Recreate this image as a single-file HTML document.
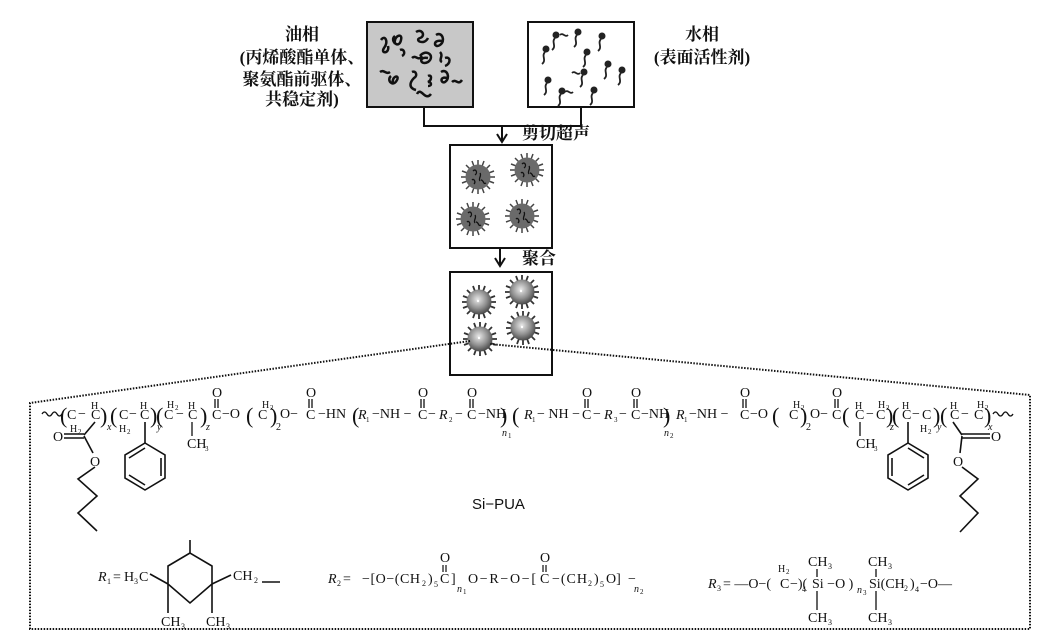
<!DOCTYPE html>
<html><head><meta charset="utf-8"><style>
html,body{margin:0;padding:0;background:#fff;}
svg{display:block;}
.cn{font-family:"Liberation Serif","Noto Serif CJK SC",serif;font-size:17px;fill:#111;font-weight:bold;}
.ch{font-family:"Liberation Serif",serif;font-size:14px;fill:#111;}
.sm{font-family:"Liberation Serif",serif;font-size:10px;fill:#111;}
.it{font-style:italic;}
.br{font-family:"Liberation Serif",serif;font-size:22px;fill:#111;}
</style></head><body>
<svg width="1055" height="634" viewBox="0 0 1055 634" xmlns="http://www.w3.org/2000/svg">
<defs>
<radialGradient id="sph" cx="45%" cy="40%" r="60%"><stop offset="0" stop-color="#e8e8e8"/><stop offset="0.6" stop-color="#909090"/><stop offset="1" stop-color="#4a4a4a"/></radialGradient>
<g id="sp"><circle cx="0" cy="0" r="3.5" fill="#222"/><path d="M-1,3 c-4,4 2,8 -3,12" fill="none" stroke="#222" stroke-width="1.8"/></g>
<g id="p1"><g stroke="#444" stroke-width="1.5">
<line x1="-17" y1="0" x2="17" y2="0"/><line x1="0" y1="-17" x2="0" y2="17"/><line x1="-12" y1="-12" x2="12" y2="12"/><line x1="-12" y1="12" x2="12" y2="-12"/>
<line x1="-16" y1="-6" x2="16" y2="6"/><line x1="-16" y1="6" x2="16" y2="-6"/><line x1="-6" y1="-16" x2="6" y2="16"/><line x1="6" y1="-16" x2="-6" y2="16"/></g>
<circle r="12.5" fill="#6a6a6a"/>
<path d="M-5,-6 c3,-3 5,2 2,4 M2,-4 c2,3 -2,5 0,8 M-6,3 c2,-2 4,2 2,4 M3,3 c3,0 2,5 5,3" fill="none" stroke="#111" stroke-width="1.3"/></g>
<g id="p2"><g stroke="#333" stroke-width="1.8">
<line x1="-17" y1="0" x2="17" y2="0"/><line x1="0" y1="-17" x2="0" y2="17"/><line x1="-12" y1="-12" x2="12" y2="12"/><line x1="-12" y1="12" x2="12" y2="-12"/>
<line x1="-16" y1="-6" x2="16" y2="6"/><line x1="-16" y1="6" x2="16" y2="-6"/><line x1="-6" y1="-16" x2="6" y2="16"/><line x1="6" y1="-16" x2="-6" y2="16"/></g>
<circle r="12.5" fill="url(#sph)"/><circle cx="-1" cy="-1" r="1.2" fill="#fff"/></g>
</defs>

<text class="cn" x="302" y="40" text-anchor="middle">油相</text>
<text class="cn" x="302" y="63" text-anchor="middle">(丙烯酸酯单体、</text>
<text class="cn" x="302" y="85" text-anchor="middle">聚氨酯前驱体、</text>
<text class="cn" x="302" y="105" text-anchor="middle">共稳定剂)</text>
<text class="cn" x="702" y="40" text-anchor="middle">水相</text>
<text class="cn" x="702" y="63" text-anchor="middle">(表面活性剂)</text>

<rect x="367" y="22" width="106" height="85" fill="#c8c8c8" stroke="#111" stroke-width="2"/>
<g fill="none" stroke="#111" stroke-width="2.5">
<path d="M381,40 c4,-6 8,2 3,8 c-4,6 6,6 4,-2"/><path d="M395,36 c-6,4 4,14 6,4 c2,-8 -8,-4 -6,4"/>
<path d="M416,32 c6,-4 10,4 4,6 c-6,2 4,8 8,0"/><path d="M436,35 c6,-4 10,6 4,10 c-6,4 -8,-6 2,-4"/>
<path d="M400,50 c4,-2 6,4 2,6"/><path d="M412,58 c4,-4 6,4 10,-2"/><path d="M420,56 c6,-8 16,0 8,6 c-8,4 -10,-6 0,-4"/>
<path d="M440,52 c4,4 -2,8 2,10"/><path d="M445,58 c6,-2 6,6 0,8"/>
<path d="M380,72 c4,-3 6,3 10,0"/><path d="M391,76 c-5,4 2,12 6,4 c3,-6 -6,-4 -4,4"/>
<path d="M412,72 c4,-2 6,4 2,6 c-4,4 -6,10 2,12"/><path d="M428,76 c4,-2 4,4 0,6 c4,0 4,4 0,4"/>
<path d="M441,72 c6,-4 10,6 4,10 c-4,2 -6,-6 2,-4"/><path d="M452,82 c4,-4 6,4 10,-2"/>
<path d="M417,94 c4,-8 8,8 14,0"/>
</g>
<rect x="528" y="22" width="106" height="85" fill="#fff" stroke="#111" stroke-width="2"/>
<g>
<use href="#sp" x="556" y="35"/><use href="#sp" x="578" y="32"/><use href="#sp" x="602" y="36"/>
<use href="#sp" x="546" y="49"/><use href="#sp" x="587" y="52"/><use href="#sp" x="608" y="64"/>
<use href="#sp" x="584" y="72"/><use href="#sp" x="622" y="70"/><use href="#sp" x="548" y="80"/>
<use href="#sp" x="562" y="91"/><use href="#sp" x="594" y="90"/>
<path d="M560,35 c3,-3 5,3 8,0 M572,73 c3,-3 5,3 8,0 M565,92 c3,-3 5,3 8,0" fill="none" stroke="#222" stroke-width="1.8"/>
</g>
<polyline points="424,107 424,126 581,126 581,107" fill="none" stroke="#111" stroke-width="2"/>
<line x1="502" y1="126" x2="502" y2="140" stroke="#111" stroke-width="2"/>
<path d="M497,134 L502,142 L507,134" fill="none" stroke="#111" stroke-width="2"/>
<text class="cn" x="522" y="139">剪切超声</text>

<rect x="450" y="145" width="102" height="103" fill="#fff" stroke="#111" stroke-width="2"/>
<use href="#p1" x="478" y="177"/><use href="#p1" x="527" y="170"/><use href="#p1" x="473" y="219"/><use href="#p1" x="522" y="216"/>
<line x1="500" y1="248" x2="500" y2="264" stroke="#111" stroke-width="2"/>
<path d="M495,258 L500,266 L505,258" fill="none" stroke="#111" stroke-width="2"/>
<text class="cn" x="522" y="264">聚合</text>
<rect x="450" y="272" width="102" height="103" fill="#fff" stroke="#111" stroke-width="2"/>
<use href="#p2" x="479" y="302"/><use href="#p2" x="522" y="292"/><use href="#p2" x="480" y="339"/><use href="#p2" x="523" y="328"/>

<g fill="none" stroke="#111" stroke-width="2" stroke-dasharray="1.5,1.5">
<polyline points="470,341 30,403 30,629 1030,629 1030,395 490,344"/>
</g>

<g>
<path d="M42,414 q2.5,-4 5,0 t5,0 t5,0 t5,0" fill="none" stroke="#111" stroke-width="1.3"/>
<path d="M993,414 q2.5,-4 5,0 t5,0 t5,0 t5,0" fill="none" stroke="#111" stroke-width="1.3"/>
<g class="br">
<text x="60" y="423">(</text><text x="100" y="423">)</text><text x="110" y="423">(</text><text x="150" y="423">)</text><text x="156" y="423">(</text><text x="200" y="423">)</text>
<text x="246" y="423">(</text><text x="270" y="423">)</text><text x="352" y="423">(</text><text x="500" y="423">)</text><text x="512" y="423">(</text><text x="663" y="423">)</text>
<text x="772" y="423">(</text><text x="800" y="423">)</text><text x="842" y="423">(</text><text x="886" y="423">)</text><text x="892" y="423">(</text><text x="933" y="423">)</text><text x="940" y="423">(</text><text x="984" y="423">)</text>
</g>
<g class="ch">
<text x="67" y="419">C</text><text x="78" y="418">−</text><text x="91" y="419">C</text>
<text x="119" y="419">C</text><text x="129" y="418">−</text><text x="140" y="419">C</text>
<text x="164" y="419">C</text><text x="176" y="418">−</text><text x="188" y="419">C</text>
<text x="212" y="419">C</text><text x="222" y="418">−O</text>
<text x="258" y="419">C</text><text x="280" y="418">O−</text><text x="306" y="419">C</text><text x="318" y="418">−HN</text>
<text x="358" y="419" class="it">R</text><text x="372" y="418">−NH −</text><text x="418" y="419">C</text><text x="428" y="418">−</text><text x="439" y="419" class="it">R</text><text x="455" y="418">−</text><text x="467" y="419">C</text><text x="478" y="418">−NH</text>
<text x="524" y="419" class="it">R</text><text x="537" y="418">− NH −</text><text x="582" y="419">C</text><text x="593" y="418">−</text><text x="604" y="419" class="it">R</text><text x="619" y="418">−</text><text x="631" y="419">C</text><text x="641" y="418">−NH</text>
<text x="676" y="419" class="it">R</text><text x="689" y="418">−NH −</text><text x="740" y="419">C</text><text x="750" y="418">−O</text>
<text x="789" y="419">C</text><text x="810" y="418">O−</text><text x="832" y="419">C</text>
<text x="855" y="419">C</text><text x="866" y="418">−</text><text x="876" y="419">C</text>
<text x="902" y="419">C</text><text x="912" y="418">−</text><text x="922" y="419">C</text>
<text x="950" y="419">C</text><text x="961" y="418">−</text><text x="974" y="419">C</text>
<text x="212" y="397">O</text><text x="306" y="397">O</text><text x="418" y="397">O</text><text x="467" y="397">O</text>
<text x="582" y="397">O</text><text x="631" y="397">O</text><text x="740" y="397">O</text><text x="832" y="397">O</text>
<text x="187" y="448">CH</text><text x="856" y="448">CH</text>
<text x="53" y="441">O</text><text x="991" y="441">O</text><text x="90" y="466">O</text><text x="953" y="466">O</text>
</g>
<g class="sm">
<text x="91" y="409">H</text><text x="140" y="409">H</text><text x="188" y="409">H</text><text x="855" y="409">H</text><text x="902" y="409">H</text><text x="950" y="409">H</text>
<text x="167" y="408">H</text><text x="175" y="410" font-size="7">2</text>
<text x="262" y="408">H</text><text x="270" y="410" font-size="7">2</text>
<text x="793" y="408">H</text><text x="801" y="410" font-size="7">2</text>
<text x="878" y="408">H</text><text x="886" y="410" font-size="7">2</text>
<text x="977" y="408">H</text><text x="985" y="410" font-size="7">2</text>
<text x="70" y="432">H</text><text x="78" y="434" font-size="7">2</text>
<text x="119" y="432">H</text><text x="127" y="434" font-size="7">2</text>
<text x="920" y="432">H</text><text x="928" y="434" font-size="7">2</text>
<text x="107" y="430" class="it">x</text><text x="157" y="430" class="it">y</text><text x="206" y="430" class="it">z</text><text x="276" y="430">2</text>
<text x="366" y="422" font-size="7">1</text><text x="449" y="422" font-size="7">2</text><text x="532" y="422" font-size="7">1</text><text x="614" y="422" font-size="7">3</text><text x="684" y="422" font-size="7">1</text>
<text x="502" y="436" class="it">n</text><text x="508" y="438" font-size="7">1</text>
<text x="664" y="436" class="it">n</text><text x="670" y="438" font-size="7">2</text>
<text x="806" y="430">2</text><text x="890" y="430" class="it">z</text><text x="937" y="430" class="it">y</text><text x="988" y="430" class="it">x</text>
<text x="205" y="451" font-size="7">3</text><text x="874" y="451" font-size="7">3</text>
</g>
<g stroke="#111" stroke-width="1.3" fill="none">
<line x1="215" y1="399" x2="215" y2="408"/><line x1="218" y1="399" x2="218" y2="408"/>
<line x1="309" y1="399" x2="309" y2="408"/><line x1="312" y1="399" x2="312" y2="408"/>
<line x1="421" y1="399" x2="421" y2="408"/><line x1="424" y1="399" x2="424" y2="408"/>
<line x1="470" y1="399" x2="470" y2="408"/><line x1="473" y1="399" x2="473" y2="408"/>
<line x1="585" y1="399" x2="585" y2="408"/><line x1="588" y1="399" x2="588" y2="408"/>
<line x1="634" y1="399" x2="634" y2="408"/><line x1="637" y1="399" x2="637" y2="408"/>
<line x1="743" y1="399" x2="743" y2="408"/><line x1="746" y1="399" x2="746" y2="408"/>
<line x1="835" y1="399" x2="835" y2="408"/><line x1="838" y1="399" x2="838" y2="408"/>
<line x1="192" y1="422" x2="192" y2="436"/><line x1="860" y1="422" x2="860" y2="436"/>
</g>
<g stroke="#111" stroke-width="1.6" fill="none">
<line x1="95" y1="422" x2="84" y2="435"/><line x1="64" y1="434" x2="84" y2="434"/><line x1="64" y1="438" x2="84" y2="438"/>
<line x1="84" y1="436" x2="93" y2="453"/>
<polyline points="95,467 78,479 97,496 78,513 97,531"/>
<line x1="145" y1="422" x2="145" y2="443"/>
<polygon points="145,443 165,455 165,478 145,490 125,478 125,455"/>
<line x1="161" y1="458" x2="161" y2="476"/><line x1="129" y1="458" x2="145" y2="448"/><line x1="129" y1="475" x2="145" y2="485"/>
<line x1="908" y1="422" x2="908" y2="443"/>
<polygon points="908,443 928,455 928,478 908,490 888,478 888,455"/>
<line x1="892" y1="458" x2="892" y2="476"/><line x1="924" y1="458" x2="908" y2="448"/><line x1="924" y1="475" x2="908" y2="485"/>
<line x1="953" y1="422" x2="962" y2="435"/><line x1="962" y1="434" x2="990" y2="434"/><line x1="962" y1="438" x2="990" y2="438"/>
<line x1="962" y1="436" x2="960" y2="453"/>
<polyline points="962,467 978,479 960,496 978,513 960,532"/>
</g>
</g>
<text x="472" y="509" font-family="Liberation Sans,sans-serif" font-size="15" fill="#111">Si−PUA</text>

<g class="ch">
<text x="98" y="581" class="it">R</text><text x="107" y="584" font-size="8">1</text><text x="113" y="581">=</text>
<text x="124" y="581">H</text><text x="134" y="584" font-size="8">3</text><text x="139" y="581">C</text>
<text x="233" y="580">CH</text><text x="254" y="583" font-size="8">2</text>
<text x="161" y="626">CH</text><text x="181" y="629" font-size="8">3</text>
<text x="206" y="626">CH</text><text x="226" y="629" font-size="8">3</text>
</g>
<g stroke="#111" stroke-width="1.6" fill="none">
<polygon points="190,553 168,566 168,584 190,603 212,584 212,566"/>
<line x1="190" y1="553" x2="190" y2="540"/>
<line x1="150" y1="574" x2="168" y2="584"/><line x1="212" y1="584" x2="231" y2="575"/>
<line x1="168" y1="584" x2="168" y2="613"/><line x1="212" y1="584" x2="212" y2="613"/>
<line x1="262" y1="582" x2="280" y2="582"/>
</g>
<g class="ch">
<text x="328" y="583" class="it">R</text><text x="337" y="586" font-size="8">2</text><text x="343" y="583">=</text>
<text x="362" y="583" textLength="58" lengthAdjust="spacing">−[O−(CH</text><text x="422" y="586" font-size="8">2</text><text x="428" y="583">)</text><text x="434" y="587" font-size="8">5</text>
<text x="440" y="583">C</text><text x="440" y="562">O</text><text x="451" y="583">]</text><text x="457" y="592" class="it" font-size="10">n</text><text x="463" y="594" font-size="7">1</text>
<text x="468" y="583" textLength="68" lengthAdjust="spacing">O−R−O−[</text><text x="540" y="583">C</text><text x="540" y="562">O</text>
<text x="552" y="583" textLength="35" lengthAdjust="spacing">−(CH</text><text x="588" y="586" font-size="8">2</text><text x="594" y="583">)</text><text x="600" y="587" font-size="8">5</text>
<text x="606" y="583">O]</text><text x="634" y="592" class="it" font-size="10">n</text><text x="640" y="594" font-size="7">2</text><text x="628" y="583">−</text>
</g>
<g stroke="#111" stroke-width="1.2"><line x1="443" y1="565" x2="443" y2="572"/><line x1="446" y1="565" x2="446" y2="572"/><line x1="543" y1="565" x2="543" y2="572"/><line x1="546" y1="565" x2="546" y2="572"/></g>
<g class="ch">
<text x="708" y="588" class="it">R</text><text x="717" y="591" font-size="8">3</text><text x="723" y="588">= —O−(</text>
<text x="780" y="588">C</text><text x="778" y="572" font-size="10">H</text><text x="786" y="574" font-size="7">2</text>
<text x="790" y="588">−)(</text><text x="802" y="592" font-size="8">4</text>
<text x="812" y="588">Si −O )</text><text x="857" y="593" class="it" font-size="10">n</text><text x="863" y="595" font-size="7">3</text>
<text x="869" y="588">Si(CH</text><text x="904" y="591" font-size="8">2</text><text x="910" y="588">)</text><text x="915" y="592" font-size="8">4</text><text x="920" y="588">−O—</text>
<text x="808" y="566">CH</text><text x="828" y="569" font-size="8">3</text><text x="808" y="622">CH</text><text x="828" y="625" font-size="8">3</text>
<text x="868" y="566">CH</text><text x="888" y="569" font-size="8">3</text><text x="868" y="622">CH</text><text x="888" y="625" font-size="8">3</text>
</g>
<g stroke="#111" stroke-width="1.3"><line x1="817" y1="569" x2="817" y2="577"/><line x1="817" y1="591" x2="817" y2="610"/><line x1="876" y1="569" x2="876" y2="577"/><line x1="876" y1="591" x2="876" y2="610"/></g>
</svg>
</body></html>
